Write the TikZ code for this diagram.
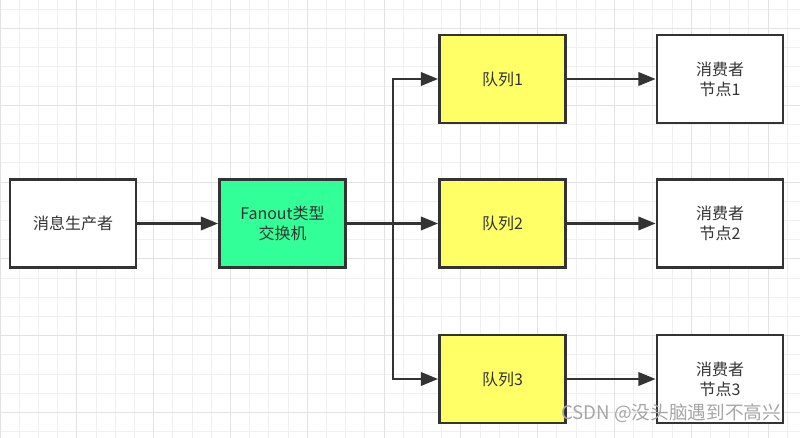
\documentclass[tikz,border=0pt]{standalone}
\usepackage{fontspec}
\setmainfont{Noto Sans CJK SC}
\usepackage{xcolor}
\usetikzlibrary{arrows.meta, positioning}
\definecolor{kline}{HTML}{333333}
\definecolor{qyellow}{HTML}{FFFF66}
\definecolor{xgreen}{HTML}{33FF99}
\definecolor{gridlo}{HTML}{F0F0F0}
\definecolor{gridhi}{HTML}{E2E2E2}

\tikzset{
  box/.style={draw=kline, line width=2pt, minimum width=94.5pt, minimum height=66pt,
    align=center, text=kline, font=\fontsize{12}{15}\selectfont},
  link/.style={draw=kline, line width=2pt, -{Triangle[length=13pt,width=10pt]}},
  wmark/.style={text=black!35, font=\fontsize{14}{16}\selectfont},
}

\begin{document}
\begin{tikzpicture}[x=0.75pt, y=-0.75pt]
\useasboundingbox (0,0) rectangle (800,438);
\fill[white] (0,0) rectangle (800,438);
% grid
\foreach \i in {0,...,41}
  \draw[gridlo, line width=0.6pt] ({\i*19.2},0) -- ({\i*19.2},438);
\foreach \j in {0,...,22}
  \draw[gridlo, line width=0.6pt] (0,{9.2+\j*19.2}) -- (800,{9.2+\j*19.2});
\foreach \i in {0,...,10}
  \draw[gridhi, line width=0.6pt] ({\i*76.8},0) -- ({\i*76.8},438);
\foreach \j in {0,...,5}
  \draw[gridhi, line width=0.6pt] (0,{28.4+\j*76.8}) -- (800,{28.4+\j*76.8});

% boxes
\node[box, fill=white] (prod) at (73,223.5) {消息生产者};
\node[box, fill=xgreen] (exch) at (282.5,223.5) {Fanout类型\\交换机};
\node[box, fill=qyellow] (q1) at (502.5,79) {队列1};
\node[box, fill=qyellow] (q2) at (502.5,223.5) {队列2};
\node[box, fill=qyellow] (q3) at (502.5,379) {队列3};
\node[box, fill=white] (c1) at (720,79) {消费者\\节点1};
\node[box, fill=white] (c2) at (720,223.5) {消费者\\节点2};
\node[box, fill=white] (c3) at (720,379) {消费者\\节点3};

% connectors
\coordinate (fork) at (393,223.5);
\draw[link] (prod) -- (exch);
\draw[link] (exch) -- (q2);
\draw[link] (fork) |- (q1.west);
\draw[link] (fork) |- (q3.west);
\draw[link] (q1) -- (c1);
\draw[link] (q2) -- (c2);
\draw[link] (q3) -- (c3);

\node[wmark, anchor=east] (wm) at (786,413) {CSDN @没头脑遇到不高兴};
\end{tikzpicture}
\end{document}
